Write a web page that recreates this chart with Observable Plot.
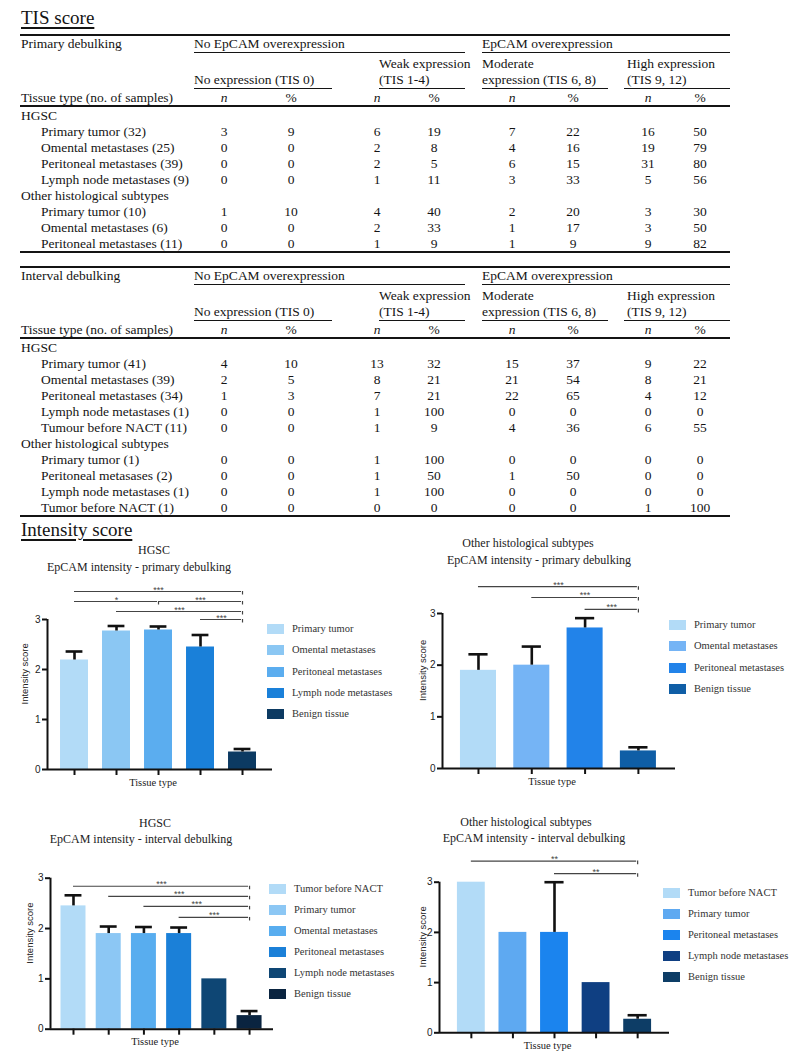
<!DOCTYPE html>
<html><head><meta charset="utf-8">
<script src="https://cdn.jsdelivr.net/npm/d3@7"></script>
<script src="https://cdn.jsdelivr.net/npm/@observablehq/plot@0.6"></script>
<style>
html,body{margin:0;padding:0;background:#fff;}
#page{position:relative;width:799px;height:1061px;overflow:hidden;font-family:"Liberation Serif",serif;color:#141414;}
.t{position:absolute;white-space:nowrap;}
.ln{position:absolute;background:#141414;}
.sw{position:absolute;}
</style></head><body><div id="page"></div>
<script>
// ---------- TIS score tables ----------
const groupHeaders = ["No EpCAM overexpression", "EpCAM overexpression"];
const subHeaders = [["", "No expression (TIS 0)"], ["Weak expression", "(TIS 1-4)"], ["Moderate", "expression (TIS 6, 8)"], ["High expression", "(TIS 9, 12)"]];
const columnHeads = ["n", "%", "n", "%", "n", "%", "n", "%"];

const primaryRows = ["HGSC", "Primary tumor (32)", "Omental metastases (25)", "Peritoneal metastases (39)", "Lymph node metastases (9)", "Other histological subtypes", "Primary tumor (10)", "Omental metastases (6)", "Peritoneal metastases (11)"];
const primaryValues = [
  null,
  [3, 9, 6, 19, 7, 22, 16, 50],
  [0, 0, 2, 8, 4, 16, 19, 79],
  [0, 0, 2, 5, 6, 15, 31, 80],
  [0, 0, 1, 11, 3, 33, 5, 56],
  null,
  [1, 10, 4, 40, 2, 20, 3, 30],
  [0, 0, 2, 33, 1, 17, 3, 50],
  [0, 0, 1, 9, 1, 9, 9, 82]
];
const intervalRows = ["HGSC", "Primary tumor (41)", "Omental metastases (39)", "Peritoneal metastases (34)", "Lymph node metastases (1)", "Tumour before NACT (11)", "Other histological subtypes", "Primary tumor (1)", "Peritoneal metasases (2)", "Lymph node metastases (1)", "Tumor before NACT (1)"];
const intervalValues = [
  null,
  [4, 10, 13, 32, 15, 37, 9, 22],
  [2, 5, 8, 21, 21, 54, 8, 21],
  [1, 3, 7, 21, 22, 65, 4, 12],
  [0, 0, 1, 100, 0, 0, 0, 0],
  [0, 0, 1, 9, 4, 36, 6, 55],
  null,
  [0, 0, 1, 100, 0, 0, 0, 0],
  [0, 0, 1, 50, 1, 50, 0, 0],
  [0, 0, 1, 100, 0, 0, 0, 0],
  [0, 0, 0, 0, 0, 0, 1, 100]
];

// ---------- Intensity score charts ----------
const c1Names = ["Primary tumor", "Omental metastases", "Peritoneal metastases", "Lymph node metastases", "Benign tissue"];
const c1Values = [2.19, 2.77, 2.79, 2.45, 0.35];
const c1Errors = [0.17, 0.10, 0.07, 0.24, 0.06];
const c1Palette = ["#b2dbf7", "#8bc7f3", "#5badef", "#1a80d9", "#0c3a62"];
const c1Sig = [[0, 4, 3.56, "***"], [0, 2, 3.36, "*"], [2, 4, 3.36, "***"], [1, 4, 3.16, "***"], [3, 4, 3.0, "***"]];

const c2Names = ["Primary tumor", "Omental metastases", "Peritoneal metastases", "Benign tissue"];
const c2Values = [1.9, 2.0, 2.72, 0.34];
const c2Errors = [0.31, 0.36, 0.19, 0.07];
const c2Palette = ["#b2dbf7", "#75b4f5", "#2283e9", "#0f5ea6"];
const c2Sig = [[0, 3, 3.52, "***"], [1, 3, 3.31, "***"], [2, 3, 3.08, "***"]];

const c3Names = ["Tumor before NACT", "Primary tumor", "Omental metastases", "Peritoneal metastases", "Lymph node metastases", "Benign tissue"];
const c3Values = [2.45, 1.9, 1.9, 1.9, 1.0, 0.27];
const c3Errors = [0.21, 0.14, 0.13, 0.12, null, 0.09];
const c3Palette = ["#b2dbf7", "#8cc7f4", "#58adef", "#1b80d8", "#0e4674", "#0a2440"];
const c3Sig = [[0, 5, 2.84, "***"], [1, 5, 2.64, "***"], [2, 5, 2.44, "***"], [3, 5, 2.22, "***"]];

const c4Names = ["Tumor before NACT", "Primary tumor", "Peritoneal metastases", "Lymph node metastases", "Benign tissue"];
const c4Values = [3, 2, 2, 1, 0.27];
const c4Errors = [null, null, 1, null, 0.08];
const c4Palette = ["#b2dbf7", "#5ea9f1", "#1b84ee", "#0f3f82", "#0d3d66"];
const c4Sig = [[0, 4, 3.42, "**"], [2, 4, 3.17, "**"]];

// ---------- helpers ----------
const page = document.getElementById("page");
function txt(s, x, cy, o = {}) {
  const size = o.size || 13.5, lh = o.lh || 16;
  const d = document.createElement("div");
  d.className = "t";
  d.textContent = s;
  d.style.fontSize = size + "px";
  d.style.lineHeight = lh + "px";
  d.style.top = (cy - lh / 2) + "px";
  if (o.anchor === "middle") { d.style.left = (x - 150) + "px"; d.style.width = "300px"; d.style.textAlign = "center"; }
  else d.style.left = x + "px";
  if (o.italic) d.style.fontStyle = "italic";
  if (o.color) d.style.color = o.color;
  if (o.family) d.style.fontFamily = o.family;
  if (o.underline) { d.style.textDecoration = "underline"; d.style.textDecorationThickness = "1.5px"; d.style.textUnderlineOffset = "3px"; }
  page.appendChild(d);
  return d;
}
function hline(x1, x2, y, w = 1) {
  const d = document.createElement("div");
  d.className = "ln";
  d.style.left = x1 + "px"; d.style.width = (x2 - x1) + "px";
  d.style.top = (y - w / 2) + "px"; d.style.height = w + "px";
  page.appendChild(d);
}

const colX = [224, 291, 377, 434, 512, 573, 648, 700];
function table(top, title, rows, values) {
  hline(20, 730, top, 1.6);
  txt(title, 21, top + 9);
  txt(groupHeaders[0], 194, top + 9);
  txt(groupHeaders[1], 482, top + 9);
  hline(194, 465, top + 17, 1);
  hline(482, 730, top + 17, 1);
  const subX = [194, 379, 482, 627];
  subHeaders.forEach((s, k) => {
    if (s[0]) txt(s[0], subX[k], top + 29);
    txt(s[1], subX[k], top + 45);
  });
  [[194, 332], [379, 465], [482, 608], [624, 730]].forEach(([a, b]) => hline(a, b, top + 53, 1));
  txt("Tissue type (no. of samples)", 21, top + 63);
  columnHeads.forEach((h, k) => txt(h, colX[k], top + 63, {anchor: "middle", italic: h === "n"}));
  hline(20, 730, top + 71, 2);
  rows.forEach((r, i) => {
    const cy = top + 81 + i * 16;
    const v = values[i];
    txt(r, v ? 41 : 21, cy);
    if (v) v.forEach((n, k) => txt(String(n), colX[k], cy, {anchor: "middle"}));
  });
  hline(20, 730, top + 81 + (rows.length - 1) * 16 + 8, 2);
}

txt("TIS score", 21, 18, {size: 19, lh: 22, underline: true});
table(35, "Primary debulking", primaryRows, primaryValues);
table(267, "Interval debulking", intervalRows, intervalValues);
txt("Intensity score", 21, 530, {size: 19, lh: 22, underline: true});

function chart(cfg) {
  const {names, values, errors, palette, sig, left, top, width, height, mL, mR, mT, mB, xDom, half, cap, labDx} = cfg;
  const data = names.map((n, i) => ({i, n, v: values[i], e: errors[i]}));
  const err = data.filter(d => d.e != null);
  const sg = sig.map(([a, b, y, label]) => ({a, b, y, label, m: (a + b) / 2}));
  const svg = Plot.plot({
    width, height, marginLeft: mL, marginRight: mR, marginTop: mT, marginBottom: mB,
    x: {domain: xDom},
    y: {domain: [0, 3]},
    color: {domain: names, range: palette},
    style: {fontFamily: "Liberation Sans, sans-serif", fontSize: "10px", color: "#222", background: "transparent", overflow: "visible"},
    marks: [
      Plot.rectY(data, {x1: d => d.i - half, x2: d => d.i + half, y1: 0, y2: "v", fill: "n"}),
      Plot.ruleX(err, {x: "i", y1: "v", y2: d => d.v + d.e, stroke: "#111", strokeWidth: 2.6}),
      Plot.ruleY(err, {y: d => d.v + d.e, x1: d => d.i - cap, x2: d => d.i + cap, stroke: "#111", strokeWidth: 2.6}),
      Plot.axisY({ticks: [0, 1, 2, 3], tickSize: 5, tickPadding: 2, stroke: "#111", strokeWidth: 2, tickFormat: d3.format("d"), label: null, fontSize: 10}),
      Plot.axisX({ticks: data.map(d => d.i), tickSize: 6, stroke: "#111", strokeWidth: 2, tickFormat: () => "", label: null}),
      Plot.ruleX([xDom[0]], {y1: 0, y2: 3, stroke: "#111", strokeWidth: 2}),
      Plot.ruleY([0], {stroke: "#111", strokeWidth: 2}),
      Plot.ruleY(sg, {y: "y", x1: "a", x2: "b", stroke: "#444", strokeWidth: 1.2, insetRight: 1}),
      Plot.ruleX(sg, {x: "b", y1: "y", y2: d => d.y - 0.07, stroke: "#444", strokeWidth: 1.2}),
      Plot.text(sg, {x: "m", y: "y", text: "label", lineAnchor: "bottom", dy: 1, fontSize: 9, fill: "#444"}),
      Plot.text(["Intensity score"], {frameAnchor: "left", rotate: -90, dx: -labDx, dy: 10, fontSize: 9.5, fill: "#222"}),
      Plot.text(["Tissue type"], {frameAnchor: "bottom", dx: -7, dy: 16, fontSize: 10.5, fontFamily: "Liberation Serif, serif", fill: "#222"})
    ]
  });
  const wrap = document.createElement("div");
  wrap.style.position = "absolute";
  wrap.style.left = left + "px";
  wrap.style.top = top + "px";
  wrap.appendChild(svg);
  page.appendChild(wrap);
  cfg.titles.forEach(([s, x, y]) => txt(s, x, y, {size: 12, anchor: "middle", color: "#222"}));
  names.forEach((n, k) => {
    const cy = cfg.legY + k * cfg.legStep;
    const sw = document.createElement("div");
    sw.className = "sw";
    sw.style.left = cfg.legX + "px"; sw.style.top = (cy - 5) + "px";
    sw.style.width = "17px"; sw.style.height = "10px"; sw.style.background = palette[k];
    page.appendChild(sw);
    txt(n, cfg.legX + 25, cy, {size: 10.5, lh: 14, color: "#333"});
  });
}

chart({names: c1Names, values: c1Values, errors: c1Errors, palette: c1Palette, sig: c1Sig,
  left: 0, top: 575, width: 280, height: 225, mL: 47, mR: 8, mT: 44, mB: 31,
  xDom: [-0.643, 4.714], half: 0.333, cap: 0.2, labDx: 23,
  titles: [["HGSC", 154, 550], ["EpCAM intensity - primary debulking", 139, 567]],
  legX: 267, legY: 629, legStep: 21.3});
chart({names: c2Names, values: c2Values, errors: c2Errors, palette: c2Palette, sig: c2Sig,
  left: 400, top: 575, width: 285, height: 225, mL: 42, mR: 10, mT: 38, mB: 32,
  xDom: [-0.675, 3.696], half: 0.338, cap: 0.18, labDx: 20,
  titles: [["Other histological subtypes", 528, 543], ["EpCAM intensity - primary debulking", 539, 560]],
  legX: 669, legY: 625, legStep: 21.3});
chart({names: c3Names, values: c3Values, errors: c3Errors, palette: c3Palette, sig: c3Sig,
  left: 0, top: 850, width: 281, height: 211, mL: 50, mR: 8, mT: 27.7, mB: 32.3,
  xDom: [-0.653, 5.68], half: 0.355, cap: 0.24, labDx: 21,
  titles: [["HGSC", 155, 823], ["EpCAM intensity - interval debulking", 141, 839]],
  legX: 269, legY: 889, legStep: 21});
chart({names: c4Names, values: c4Values, errors: c4Errors, palette: c4Palette, sig: c4Sig,
  left: 400, top: 850, width: 280, height: 211, mL: 39, mR: 11, mT: 31.7, mB: 28.7,
  xDom: [-0.766, 4.766], half: 0.335, cap: 0.23, labDx: 17,
  titles: [["Other histological subtypes", 526, 822], ["EpCAM intensity - interval debulking", 534, 838]],
  legX: 663, legY: 893, legStep: 21});
</script></body></html>
